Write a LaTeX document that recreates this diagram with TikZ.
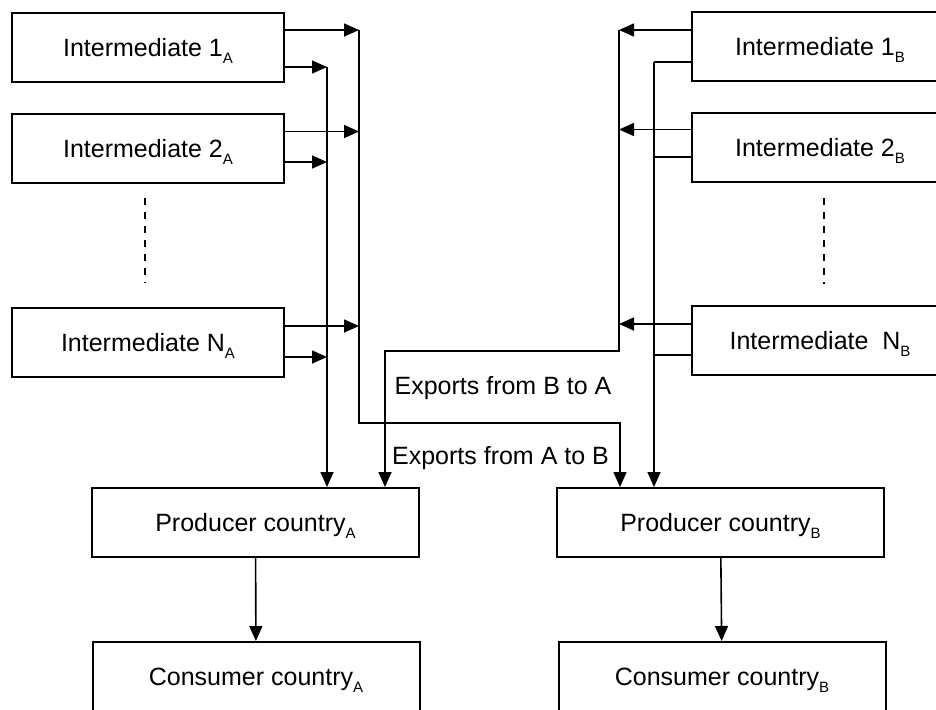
\documentclass[tikz,border=0pt]{standalone}
\usepackage{fontspec}
\setmainfont{Liberation Sans}
\usetikzlibrary{positioning,arrows.meta}
\newcommand{\lowidx}[1]{\raisebox{-3.5pt}{\fontsize{7.5}{7.5}\selectfont #1}}

\begin{document}
\begin{tikzpicture}[x=0.5pt,y=-0.5pt,line width=0.8pt,
flow/.style={-{Triangle[length=7.5pt,width=6.5pt]}},
block/.style={draw,line width=1pt,minimum width=136pt,minimum height=34.5pt,
inner sep=0pt,text height=9pt,text depth=0pt,font=\fontsize{12.5}{15}\selectfont},
wide/.style={block,minimum width=163.5pt},
note/.style={inner sep=0pt,text height=9pt,text depth=0pt,font=\fontsize{12.5}{15}\selectfont},
ellipsis/.style={dash pattern=on 3.5pt off 3.5pt,line width=1.1pt}]
\useasboundingbox (0,0) rectangle (936,709);
% country A side
\node[block] (I1A) at (148,47.5) {Intermediate 1\lowidx{A}};
\node[block] (I2A) [below=50.5pt of I1A.center,anchor=center] {Intermediate 2\lowidx{A}};
\node[block] (INA) at (148,342.5) {Intermediate N\lowidx{A}};
% country B side
\node[block,minimum width=128pt] (I1B) at (820,46) {Intermediate 1\lowidx{B}};
\node[block,minimum width=128pt] (I2B) at (820,147) {Intermediate 2\lowidx{B}};
\node[block,minimum width=128pt] (INB) at (820,340) {Intermediate~~N\lowidx{B}};
% producers and consumers
\node[wide] (PA) at (255.5,522.5) {Producer country\lowidx{A}};
\node[wide] (PB) at (720.5,522.5) {Producer country\lowidx{B}};
\node[wide] (CA) at (256,676.5) {Consumer country\lowidx{A}};
\node[wide] (CB) at (722,676.5) {Consumer country\lowidx{B}};
\node[note] (BtoA) at (503,385) {Exports from B to A};
\node[note] (AtoB) at (500.5,455) {Exports from A to B};

\coordinate (colA) at (359,30);
\coordinate (dropA) at (327,67);
\coordinate (colB) at (619,30);
\coordinate (dropB) at (654,62);
\coordinate (turnAB) at (359,423);
\coordinate (turnBA) at (619,351);

\foreach \b/\u/\d in {I1A/8.75/9.75,I2A/8.5/6.75,INA/8.25/7.25}{
\draw[flow] ([yshift=\u pt]\b.east) -- ([yshift=\u pt]\b.east -| colA);
\draw[flow] ([yshift=-\d pt]\b.east) -- ([yshift=-\d pt]\b.east -| dropA);
}
\foreach \b/\u/\d in {I1B/8/8,I2B/8.75/5,INB/8/7.5}{
\draw[flow] ([yshift=\u pt]\b.west) -- ([yshift=\u pt]\b.west -| colB);
\draw ([yshift=-\d pt]\b.west) -- ([yshift=-\d pt]\b.west -| dropB);
}

\draw[flow] (colA) -- (turnAB) -| ([xshift=-50.25pt]PB.north);
\draw[flow] (dropA) -- (dropA |- PA.north);
\draw[flow] (colB) -- (turnBA) -| ([xshift=64.75pt]PA.north);
\draw[flow] (dropB) -- (dropB |- PB.north);
\draw[flow] (PA) -- (CA);
\draw[flow] (PB) -- (CB);

\draw[ellipsis,shorten <=7pt,shorten >=12pt] ([xshift=-1.5pt]I2A.south) -- ([xshift=-1.5pt]INA.north);
\draw[ellipsis,shorten <=7.75pt,shorten >=10.25pt] ([xshift=2pt]I2B.south) -- ([xshift=2pt]INB.north);
\end{tikzpicture}
\end{document}
